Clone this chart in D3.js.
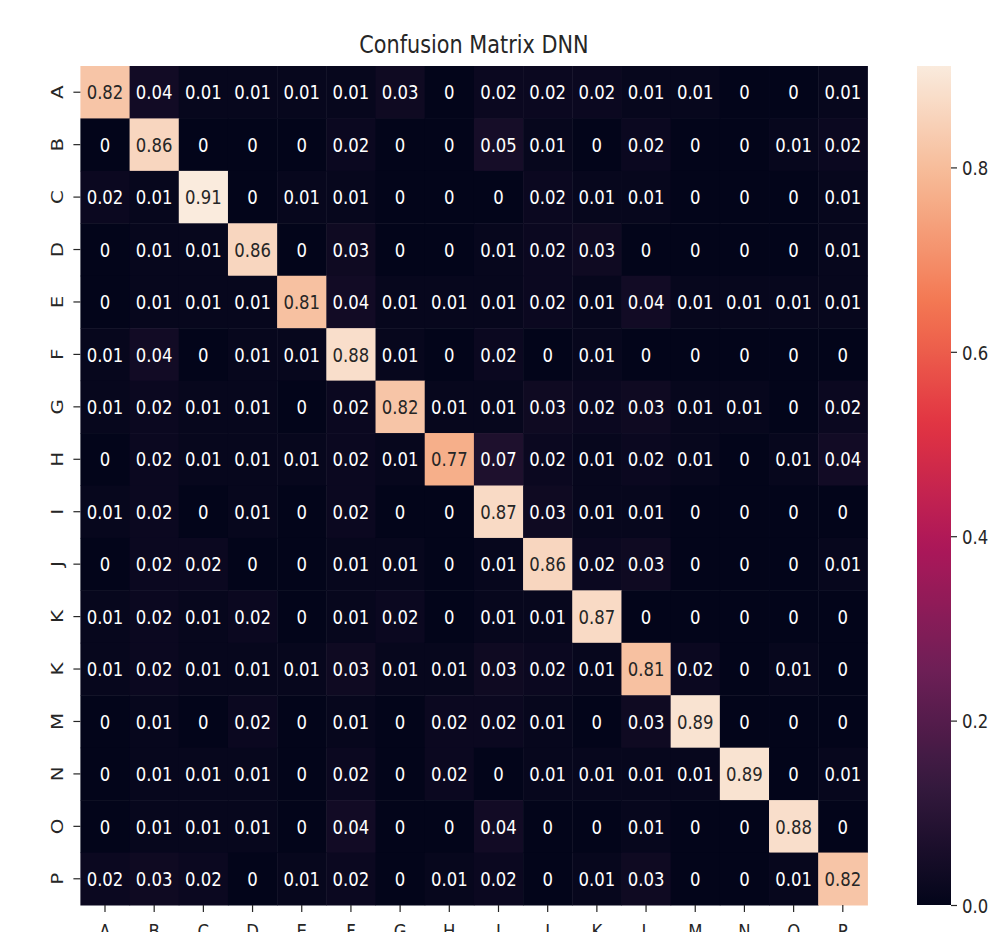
<!DOCTYPE html>
<html>
<head>
<meta charset="utf-8">
<script src="https://cdn.jsdelivr.net/npm/d3@7"></script>
<style>
body { margin: 0; background: #fff; }
text { font-family: "DejaVu Sans", sans-serif; }
</style>
</head>
<body>
<div class="box"></div>
<script>
var title = "Confusion Matrix DNN";
var xLabels = ["A","B","C","D","E","F","G","H","I","J","K","L","M","N","O","P"];
var yLabels = ["A","B","C","D","E","F","G","H","I","J","K","K","M","N","O","P"];
var cm = [
  [0.82,0.04,0.01,0.01,0.01,0.01,0.03,0,0.02,0.02,0.02,0.01,0.01,0,0,0.01],
  [0,0.86,0,0,0,0.02,0,0,0.05,0.01,0,0.02,0,0,0.01,0.02],
  [0.02,0.01,0.91,0,0.01,0.01,0,0,0,0.02,0.01,0.01,0,0,0,0.01],
  [0,0.01,0.01,0.86,0,0.03,0,0,0.01,0.02,0.03,0,0,0,0,0.01],
  [0,0.01,0.01,0.01,0.81,0.04,0.01,0.01,0.01,0.02,0.01,0.04,0.01,0.01,0.01,0.01],
  [0.01,0.04,0,0.01,0.01,0.88,0.01,0,0.02,0,0.01,0,0,0,0,0],
  [0.01,0.02,0.01,0.01,0,0.02,0.82,0.01,0.01,0.03,0.02,0.03,0.01,0.01,0,0.02],
  [0,0.02,0.01,0.01,0.01,0.02,0.01,0.77,0.07,0.02,0.01,0.02,0.01,0,0.01,0.04],
  [0.01,0.02,0,0.01,0,0.02,0,0,0.87,0.03,0.01,0.01,0,0,0,0],
  [0,0.02,0.02,0,0,0.01,0.01,0,0.01,0.86,0.02,0.03,0,0,0,0.01],
  [0.01,0.02,0.01,0.02,0,0.01,0.02,0,0.01,0.01,0.87,0,0,0,0,0],
  [0.01,0.02,0.01,0.01,0.01,0.03,0.01,0.01,0.03,0.02,0.01,0.81,0.02,0,0.01,0],
  [0,0.01,0,0.02,0,0.01,0,0.02,0.02,0.01,0,0.03,0.89,0,0,0],
  [0,0.01,0.01,0.01,0,0.02,0,0.02,0,0.01,0.01,0.01,0.01,0.89,0,0.01],
  [0,0.01,0.01,0.01,0,0.04,0,0,0.04,0,0,0.01,0,0,0.88,0],
  [0.02,0.03,0.02,0,0.01,0.02,0,0.01,0.02,0,0.01,0.03,0,0,0.01,0.82]
];
var cbarTicks = [0, 0.2, 0.4, 0.6, 0.8];
var vmax = 0.91;

// rocket colormap, sampled
var rocketStops = [0, 1/7, 2/7, 3/7, 4/7, 5/7, 6/7, 1];
var rocketColors = ["#03051a","#35193e","#701f57","#ad1759","#e13342","#f37651","#f6b48f","#faebdd"];

function drawHeat() {
var width = 989, height = 932;
var fs = 16.5, sy = 1.2;
var left = 80.4, right = 867.4, top = 66, bottom = 905;

var svg = d3.select(".box").append("svg").attr("width", width).attr("height", height);

var x = d3.scaleBand().domain(d3.range(16)).range([left, right]);
var y = d3.scaleBand().domain(d3.range(16)).range([top, bottom]);
var norm = d3.scaleLinear().domain([0, vmax]).range([0, 1]).clamp(true);
var ramp = d3.scaleLinear().domain(rocketStops).range(rocketColors).interpolate(d3.interpolateRgb);
function color(v) { return ramp(norm(v)); }

var cells = [];
cm.forEach(function(row, i) {
	row.forEach(function(v, j) { cells.push({r: i, c: j, v: v}); });
});

svg.append("g").selectAll("rect").data(cells).enter().append("rect").
	attr("x", function(d){ return x(d.c); }).
	attr("y", function(d){ return y(d.r); }).
	attr("width", x.bandwidth() + 0.5).
	attr("height", y.bandwidth() + 0.5).
	attr("fill", function(d){ return color(d.v); });

// annotations
svg.append("g").selectAll("text").data(cells).enter().append("text").
	attr("transform", function(d){
		var cx = x(d.c) + x.bandwidth() / 2;
		var cy = y(d.r) + y.bandwidth() / 2 + 0.729 * fs * sy / 2;
		return "translate(" + cx + "," + cy + ") scale(1," + sy + ")";
	}).
	attr("text-anchor", "middle").
	attr("font-size", fs).
	attr("fill", function(d){ return norm(d.v) > 0.6 ? "#262626" : "#ffffff"; }).
	text(function(d){ return d.v === 0 ? "0" : String(d.v); });

// x axis
var xAxis = svg.append("g").attr("transform", "translate(0," + bottom + ")").
	call(d3.axisBottom(x).tickSize(7).tickFormat(function(d){ return xLabels[d]; }));
xAxis.select(".domain").remove();
xAxis.selectAll("line").attr("stroke", "#262626").attr("stroke-width", 1.2);
xAxis.selectAll("text").attr("y", null).attr("dy", null).
	attr("font-size", fs).attr("fill", "#262626").
	attr("transform", "translate(0,33) scale(1," + sy + ")");

// y axis
var yAxis = svg.append("g").attr("transform", "translate(" + left + ",0)").
	call(d3.axisLeft(y).tickSize(7).tickFormat(function(d){ return yLabels[d]; }));
yAxis.select(".domain").remove();
yAxis.selectAll("line").attr("stroke", "#262626").attr("stroke-width", 1.2);
yAxis.selectAll("text").attr("x", null).attr("dy", null).
	attr("font-size", fs).attr("fill", "#262626").attr("text-anchor", "middle").
	attr("transform", "translate(-17,0) rotate(-90) scale(" + sy + ",1)");

// title
svg.append("text").
	attr("transform", "translate(" + ((left + right) / 2) + ",53) scale(1," + sy + ")").
	attr("text-anchor", "middle").
	attr("font-size", 20.8).
	attr("fill", "#262626").
	text(title);

// colorbar
var cbx = 917, cbw = 34;
var grad = svg.append("defs").append("linearGradient").attr("id", "cbar").
	attr("x1", 0).attr("y1", 1).attr("x2", 0).attr("y2", 0);
grad.selectAll("stop").data(d3.range(0, 1.0001, 0.02)).enter().append("stop").
	attr("offset", function(d){ return d; }).
	attr("stop-color", function(d){ return ramp(d); });
svg.append("rect").attr("x", cbx).attr("y", top).attr("width", cbw).attr("height", bottom - top).
	attr("fill", "url(#cbar)");

var cb = d3.scaleLinear().domain([0, vmax]).range([bottom, top]);
var cAxis = svg.append("g").attr("transform", "translate(" + (cbx + cbw) + ",0)").
	call(d3.axisRight(cb).tickValues(cbarTicks).tickSize(6).tickFormat(d3.format(".1f")));
cAxis.select(".domain").remove();
cAxis.selectAll("line").attr("stroke", "#262626").attr("stroke-width", 1.2);
cAxis.selectAll("text").attr("x", null).attr("dy", null).
	attr("font-size", fs).attr("fill", "#262626").
	attr("transform", "translate(11," + (0.729 * fs * sy / 2) + ") scale(1," + sy + ")");
}
drawHeat();
</script>
</body>
</html>
